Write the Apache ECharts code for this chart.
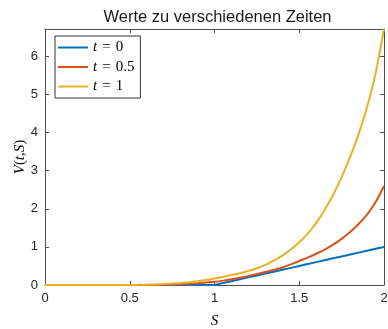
<!DOCTYPE html>
<html>
<head>
<meta charset="utf-8">
<script src="https://cdn.jsdelivr.net/npm/echarts@6/dist/echarts.min.js"></script>
<style>html,body{margin:0;padding:0;background:#fff}#c{width:388px;height:329px}</style>
</head>
<body>
<div id="c"></div>
<script>
var sValues = [0, 0.05, 0.1, 0.15, 0.2, 0.25, 0.3, 0.35, 0.4, 0.45, 0.5, 0.55, 0.6, 0.65, 0.7, 0.75, 0.8, 0.85, 0.9, 0.95,
               1.0, 1.05, 1.1, 1.15, 1.2, 1.25, 1.3, 1.35, 1.4, 1.45, 1.5, 1.55, 1.6, 1.65, 1.7, 1.75, 1.8, 1.85, 1.9, 1.95, 2.0];
var vT0  = [0, 0, 0, 0, 0, 0, 0, 0, 0, 0, 0, 0, 0, 0, 0, 0, 0, 0, 0, 0,
            0, 0.05, 0.1, 0.15, 0.2, 0.25, 0.3, 0.35, 0.4, 0.45, 0.5, 0.55, 0.6, 0.65, 0.7, 0.75, 0.8, 0.85, 0.9, 0.95, 1.0];
var vT05 = [0, 0, 0, 0, 0, 0, 0, 0, 0, 0, 0, 0.001, 0.002, 0.004, 0.008, 0.013, 0.02, 0.03, 0.045, 0.063,
            0.085, 0.115, 0.15, 0.19, 0.24, 0.29, 0.34, 0.40, 0.46, 0.54, 0.63, 0.72, 0.82, 0.93, 1.06, 1.21, 1.39, 1.60, 1.85, 2.17, 2.6];
var vT1  = [0, 0, 0, 0, 0, 0, 0, 0, 0, 0, 0.002, 0.004, 0.008, 0.015, 0.025, 0.038, 0.055, 0.075, 0.10, 0.13,
            0.17, 0.21, 0.26, 0.31, 0.37, 0.44, 0.53, 0.64, 0.77, 0.93, 1.12, 1.35, 1.63, 1.97, 2.37, 2.83, 3.36, 3.96, 4.67, 5.55, 6.72];
var seriesNames = ['t = 0', 't = 0.5', 't = 1'];
var seriesTails = ['0', '0.5', '1'];
var xTicks = [0, 0.5, 1, 1.5, 2];
var yTicks = [0, 1, 2, 3, 4, 5, 6];
var yMax = 6.72;
var colors = ['#0072BD', '#D95319', '#EDB120'];

function pairs(v) { return sValues.map(function (s, i) { return [s, v[i]]; }); }
var allV = [vT0, vT05, vT1];

var axisCol = '#4d4d4d';
var labelFont = 'Liberation Sans, Arial, Helvetica, sans-serif';
var serif = 'Liberation Serif, Times New Roman, serif';

var chart = echarts.init(document.getElementById('c'), null, {renderer: 'canvas'});
var baseX = {
  type: 'value', min: xTicks[0], max: xTicks[xTicks.length - 1], interval: xTicks[1] - xTicks[0],
  axisLine: {show: true, onZero: false, lineStyle: {color: axisCol, width: 1}},
  axisTick: {show: true, inside: true, length: 4, lineStyle: {color: axisCol}},
  splitLine: {show: false}
};
var baseY = {
  type: 'value', min: yTicks[0], max: yMax, interval: yTicks[1] - yTicks[0],
  axisLine: {show: true, onZero: false, lineStyle: {color: axisCol, width: 1}},
  axisTick: {show: true, inside: true, length: 4, lineStyle: {color: axisCol}},
  splitLine: {show: false}
};
var richLegend = {
  i: {fontFamily: serif, fontStyle: 'italic', fontSize: 15, color: '#000', lineHeight: 17},
  e: {fontFamily: serif, fontSize: 15, color: '#000', lineHeight: 17, padding: [0, 5, 0, 5]},
  r: {fontFamily: serif, fontSize: 15, color: '#000', lineHeight: 17}
};
chart.setOption({
  animation: false,
  color: colors,
  title: {
    text: 'Werte zu verschiedenen Zeiten',
    left: 212.5, top: 4, textAlign: 'center',
    textStyle: {fontFamily: labelFont, fontSize: 16.5, fontWeight: 'normal', color: '#1a1a1a'}
  },
  grid: {left: 45, right: 4, top: 29, bottom: 44, containLabel: false, outerBoundsMode: 'none'},
  legend: {
    orient: 'vertical', left: 55, top: 36,
    padding: [4, 6, 4, 3],
    icon: 'rect',
    itemWidth: 30, itemHeight: 2, itemGap: 4.5,
    borderColor: '#333', borderWidth: 1, backgroundColor: '#fff',
    data: seriesNames,
    formatter: function (name) { var i = seriesNames.indexOf(name); return '{i|t}{e|=}{r|' + seriesTails[i] + '}'; },
    textStyle: {rich: richLegend}
  },
  xAxis: [
    Object.assign({}, baseX, {
      position: 'bottom',
      axisLabel: {show: true, margin: 7, fontSize: 13, fontFamily: labelFont, color: '#262626'},
      name: 'S', nameLocation: 'middle', nameGap: 29, nameMoveOverlap: false,
      nameTextStyle: {fontFamily: serif, fontStyle: 'italic', fontSize: 15, color: '#000'}
    }),
    Object.assign({}, baseX, {position: 'top', axisLabel: {show: false}})
  ],
  yAxis: [
    Object.assign({}, baseY, {
      position: 'left',
      axisLabel: {show: true, margin: 7, fontSize: 13, fontFamily: labelFont, color: '#262626', showMaxLabel: false},
      name: '{i|V}{r|(}{i|t}{r|,}{i|S}{r|)}', nameLocation: 'middle', nameGap: 17, nameRotate: 90, nameMoveOverlap: false,
      nameTextStyle: {
        rich: {
          i: {fontFamily: serif, fontStyle: 'italic', fontSize: 15, color: '#000'},
          r: {fontFamily: serif, fontSize: 15, color: '#000'}
        }
      }
    }),
    Object.assign({}, baseY, {position: 'right', axisLabel: {show: false}})
  ],
  series: allV.map(function (v, i) {
    return {
      name: seriesNames[i], type: 'line', data: pairs(v),
      smooth: i === 0 ? false : 0.25,
      symbol: 'none', showSymbol: false, clip: true,
      lineStyle: {width: 2, color: colors[i]},
      itemStyle: {color: colors[i]}
    };
  })
});
</script>
</body>
</html>
